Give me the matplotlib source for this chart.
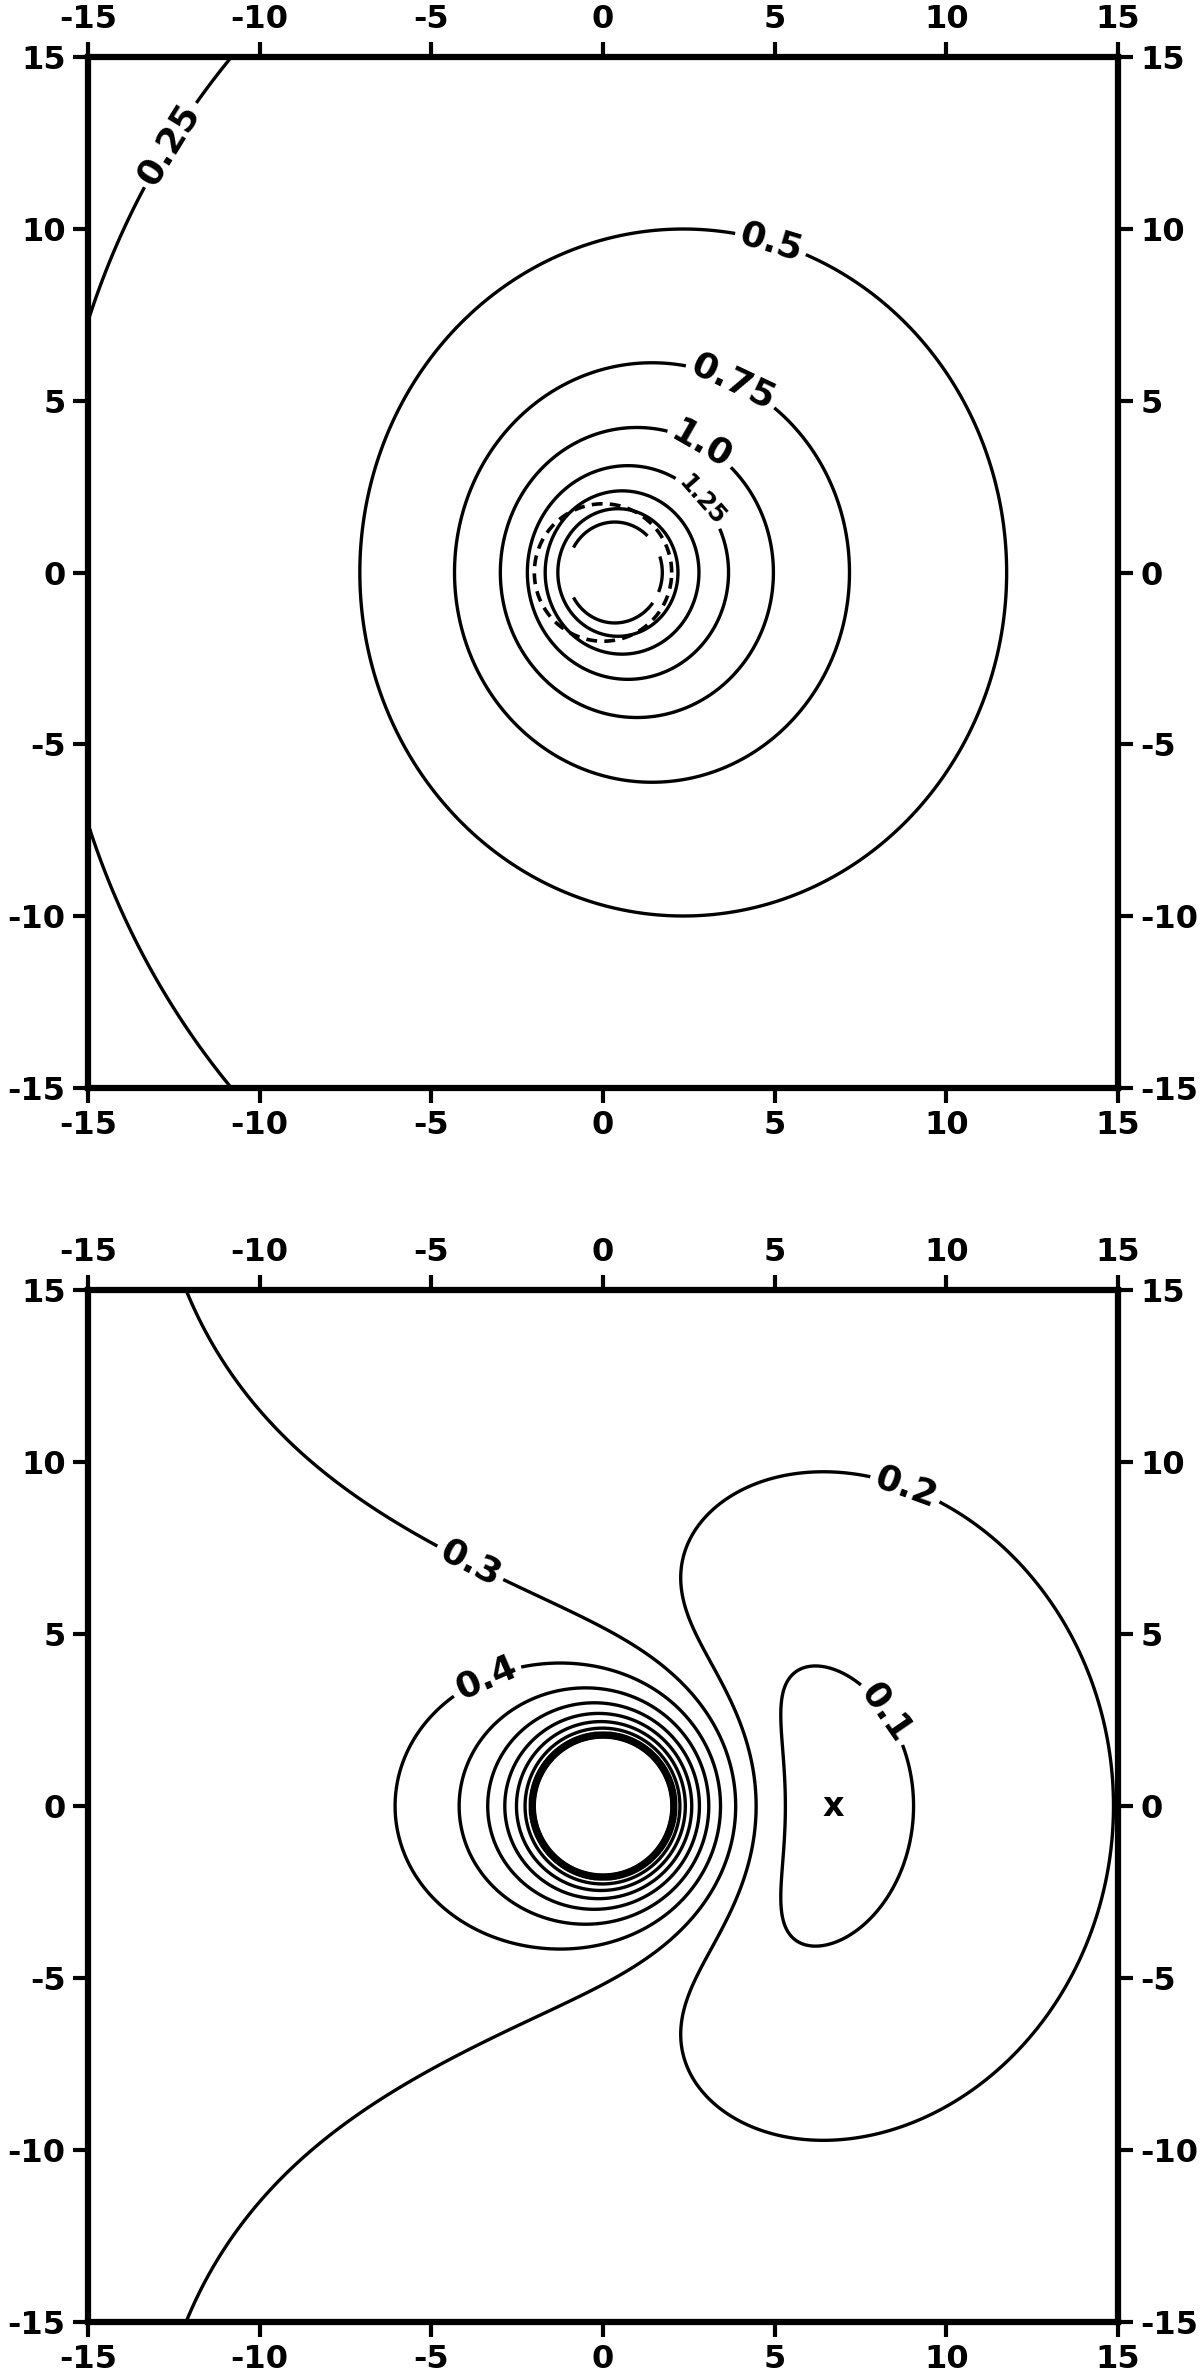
import numpy as np
import matplotlib
matplotlib.use('Agg')
import matplotlib.pyplot as plt

plt.rcParams['font.family'] = 'DejaVu Sans'
plt.rcParams['font.weight'] = 'bold'
plt.rcParams['axes.unicode_minus'] = False

# upper panel: contour levels and the shape of the level curves
top_levels = [0.25, 0.5, 0.75, 1.0, 1.25, 1.5, 1.75, 2.0]
top_labels = {0.25: (-12.7, 12.5), 0.5: (4.8, 9.3), 0.75: (3.7, 5.4), 1.0: (2.75, 3.5)}
top_small_label = {1.25: (2.75, 2.0)}
top_amp, top_core, top_floor = 5.2497, 1.1979, 0.0310   # level = amp / (R + core) + floor
top_shift, top_squash = 0.2338, 0.9423                  # centre moves right by shift*R, x half-axis squash*R
horizon_r = 2.0

# lower panel
bot_levels = [0.1, 0.2, 0.3, 0.4, 0.5, 0.6, 0.7, 0.8, 0.9,
              1.0, 1.1, 1.2, 1.3, 1.4, 1.5, 1.6, 1.7, 1.8, 1.9, 2.0]
bot_labels = {0.1: (7.9, 2.5), 0.2: (8.9, 9.5), 0.3: (-3.9, 7.0), 0.4: (-3.4, 3.7)}
src_amp, src_pow, src_tilt = 2.8692, 1.4285, -0.1361    # radial part
ext_inf, ext_c, ext_pow = 0.3323, 0.9357, 0.9118        # part pointing to -x
edge_r, edge_slope = 2.12, 8.0                          # excised region
null_x = 6.71

line_w = 2.4


def top_field(x, y):
    # R is the size of the eccentric ellipse passing through (x, y)
    kk = top_squash ** 2 - top_shift ** 2
    R = (-top_shift * x + np.sqrt(top_shift ** 2 * x ** 2 + kk * (x ** 2 + top_squash ** 2 * y ** 2))) / kk
    return top_amp / (R + top_core) + top_floor


def bot_field(x, y):
    r = np.maximum(np.hypot(x, y), 0.05)
    s = src_amp * r ** (-src_pow) * (1 + src_tilt * x / r)
    ex = s * x / r - (ext_inf - ext_c / r ** ext_pow)
    ey = s * y / r
    f = np.hypot(ex, ey)
    return f + edge_slope * np.clip(edge_r - r, 0, None)


def fmt(v):
    return str(float(v))


def style(ax):
    ax.set_xlim(-15, 15)
    ax.set_ylim(-15, 15)
    ticks = np.arange(-15, 16, 5)
    ax.set_xticks(ticks)
    ax.set_yticks(ticks)
    ax.tick_params(which='both', direction='out', length=11, width=3, pad=5,
                   labelsize=23, top=True, right=True, labeltop=True, labelright=True)
    for lab in ax.get_xticklabels() + ax.get_yticklabels():
        lab.set_fontweight('bold')
    for sp in ax.spines.values():
        sp.set_linewidth(4.5)


fig = plt.figure(figsize=(12, 23.77), dpi=100)
ax1 = fig.add_axes([0.0733, 0.5423, 0.8584, 0.4337])
ax2 = fig.add_axes([0.0733, 0.0231, 0.8584, 0.4342])

# upper panel
g = np.linspace(-15, 15, 901)
X, Y = np.meshgrid(g, g)
T = top_field(X, Y)
main_lv = [v for v in top_levels if v not in (1.25, 2.0)]
cs = ax1.contour(X, Y, T, levels=main_lv, colors='k', linewidths=line_w)
ax1.clabel(cs, levels=list(top_labels), manual=list(top_labels.values()),
           inline=True, fontsize=26, fmt=fmt)
cs2 = ax1.contour(X, Y, T, levels=[1.25], colors='k', linewidths=line_w)
ax1.clabel(cs2, levels=[1.25], manual=list(top_small_label.values()),
           inline=True, fontsize=17, fmt=fmt)
# innermost level is broken into arcs
ang = np.degrees(np.arctan2(Y, X - 0.15))
gap = (np.abs(ang) > 145) | ((ang > 18) & (ang < 42)) | ((ang < -22) & (ang > -34))
T_in = np.where(gap, np.nan, T)
ax1.contour(X, Y, T_in, levels=[2.0], colors='k', linewidths=line_w)
th = np.linspace(0, 2 * np.pi, 200)
ax1.plot(horizon_r * np.cos(th), horizon_r * np.sin(th), color='k', lw=2.6, ls=(0, (3, 2)))
style(ax1)

# lower panel
g2 = np.linspace(-15, 15, 1501)
X2, Y2 = np.meshgrid(g2, g2)
F = bot_field(X2, Y2)
cb = ax2.contour(X2, Y2, F, levels=bot_levels, colors='k', linewidths=line_w)
ax2.clabel(cb, levels=list(bot_labels), manual=list(bot_labels.values()),
           inline=True, fontsize=26, fmt=fmt)
ax2.text(null_x, 0, 'x', ha='center', va='center', fontsize=24, fontweight='bold')
style(ax2)

fig.savefig('out.png')
